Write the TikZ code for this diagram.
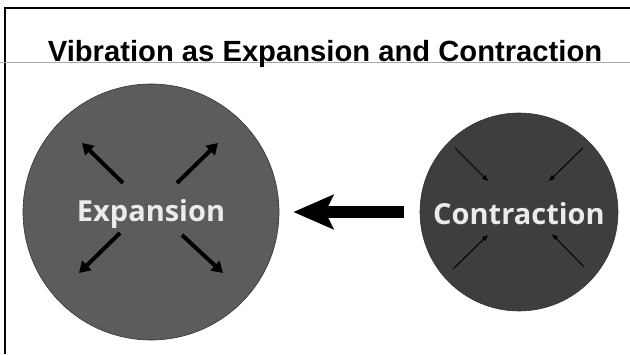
\documentclass[tikz,border=0pt]{standalone}
\usepackage{fontspec}
\setmainfont{Liberation Sans}
\newfontfamily\labelfont{Open Sans}
\usepackage{tikz}
\usetikzlibrary{arrows.meta,calc}

\definecolor{expgray}{HTML}{5C5C5C}
\definecolor{congray}{HTML}{3E3E3E}
\definecolor{rulegray}{HTML}{A8A8A8}

\tikzset{
  blob/.style={circle,draw=black!80,line width=0.6pt,inner sep=0pt},
  blobtext/.style={text=white!92!black,yshift=-2pt,font=\labelfont\bfseries\fontsize{29}{29}\selectfont},
  outarrow/.style={line width=4pt,-{Triangle[length=11pt,width=13pt]}},
  inarrow/.style={line width=1pt,-{Triangle[length=6pt,width=4.5pt]}},
  bigarrow/.style={line width=12pt,-{Stealth[length=40pt,width=34pt,inset=8pt]}}
}

\begin{document}
\begin{tikzpicture}[x=1pt,y=1pt]
\useasboundingbox (0,0) rectangle (630,354);
% frame and title
\draw[line width=2pt] (630,346) -- (5,346) -- (5,0);
\draw[rulegray,line width=1pt] (0,291.5) -- (630,291.5);
\node[anchor=base,font=\bfseries\fontsize{29.2}{30}\selectfont] (title) at (325,292) {Vibration as Expansion and Contraction};
% the two states
\node[blob,fill=expgray,minimum size=256pt] (exp) at (151,142) {};
\node[blob,fill=congray,minimum size=198pt] (con) at (519,142) {};
\node[blobtext] (explabel) at (exp) {Expansion};
\node[blobtext] (conlabel) at (con) {Contraction};
% arrows pushing out
\foreach \sx/\sy/\ex/\ey in {-28/29/-69/69, 26/29/67/69, -31/-21/-72/-61, 31/-23/72/-61}
  \draw[outarrow] ($(exp)+(\sx,\sy)$) -- ($(exp)+(\ex,\ey)$);
% arrows pulling in
\foreach \sx/\sy/\ex/\ey in {-64/64/-31/31, 64/64/30/31, -66/-57/-31/-23, 65/-55/33/-22}
  \draw[inarrow] ($(con)+(\sx,\sy)$) -- ($(con)+(\ex,\ey)$);
% from contraction to expansion
\draw[bigarrow,shorten <=16pt,shorten >=14pt] (con) -- (exp);
\end{tikzpicture}
\end{document}
